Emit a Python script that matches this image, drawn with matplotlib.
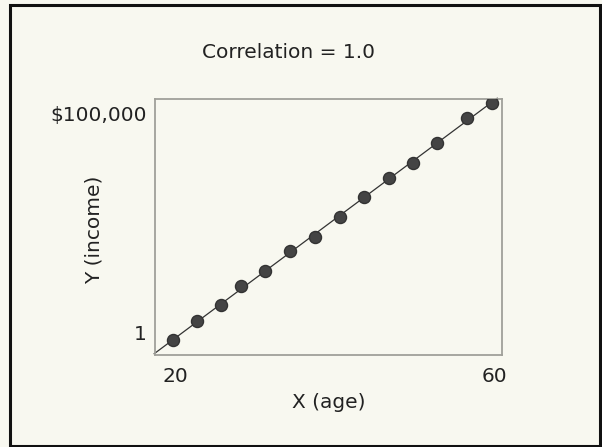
import numpy as np
import matplotlib
matplotlib.use("Agg")
import matplotlib.pyplot as plt
from matplotlib.patches import Rectangle

# data (age vs income, income on a log scale)
age = [19.8, 22.8, 25.8, 28.3, 31.3, 34.4, 37.5, 40.6, 43.6, 46.8, 49.8, 52.8, 56.5, 59.6]
income = [0.66, 1.8, 4.2, 11.4, 25, 72, 151, 434, 1250, 3400, 7500, 21600, 81000, 179000]
xtick_pos = [20, 60]
xtick_lab = ["20", "60"]
ytick_pos = [1, 100000]
ytick_lab = ["1", "$100,000"]

bg = "#f8f8f0"
txt = "#222222"
fs = 14.5

fig = plt.figure(figsize=(6.02, 4.47), dpi=100)
fig.patch.set_facecolor(bg)
# outer black frame
fig.patches.append(Rectangle((10/602, 1 - 446/447), 590/602, 441/447, transform=fig.transFigure,
                             fill=False, edgecolor="#111111", linewidth=2.2))

ax = fig.add_axes([155/602, 1 - 355/447, 347/602, 256/447])
ax.set_facecolor(bg)
ax.set_yscale("log")
ax.set_xlim(17.5, 60.9)
ax.set_ylim(10**-0.527, 10**5.344)

for s in ax.spines.values():
    s.set_color("#a0a09a")
    s.set_linewidth(1.3)

# fitted line in log space, drawn a bit past the box at the lower left
k, b = np.polyfit(age, np.log10(income), 1)
xs = np.array([17.4, 60.3])
ax.plot(xs, 10**(k*xs + b), color="#333333", lw=0.9, clip_on=False, zorder=2)
ax.scatter(age, income, s=75, color="#444444", edgecolor="#333333", zorder=3)

ax.set_xticks(xtick_pos)
ax.set_xticklabels(xtick_lab)
ax.set_yticks(ytick_pos)
ax.set_yticklabels(ytick_lab)
ax.yaxis.set_minor_locator(matplotlib.ticker.NullLocator())
ax.tick_params(length=0, labelsize=fs, labelcolor=txt)
ax.tick_params(axis="x", pad=9)
ax.tick_params(axis="y", pad=6)

ax.set_xlabel("X (age)", fontsize=fs, color=txt, labelpad=5)
fig.text(94/602, 1 - 230/447, "Y (income)", fontsize=fs, color=txt,
         rotation=90, ha="center", va="center")
fig.text(288/602, 1 - 52/447, "Correlation = 1.0", fontsize=fs, color=txt,
         ha="center", va="center")

fig.savefig("out.png", dpi=100, facecolor=bg)
